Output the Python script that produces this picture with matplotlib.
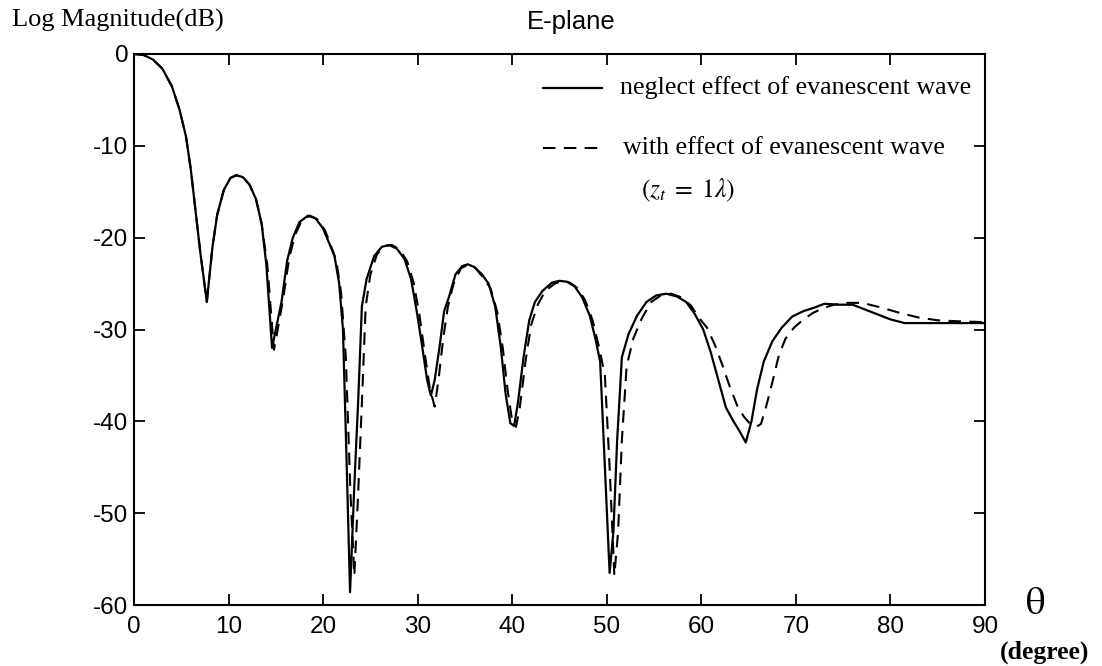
import matplotlib
matplotlib.use("Agg")
import matplotlib.pyplot as plt
from matplotlib.lines import Line2D

# ---- data ----
theta_neglect = [0, 1, 2, 3, 4, 4.8, 5.5, 6.0, 6.5, 7.0, 7.7, 8.3, 8.8, 9.5, 10.2, 10.8,
                 11.5, 12.2, 12.9, 13.5, 14.0, 14.6, 15.0, 15.6, 16.2, 16.8, 17.5, 18.4,
                 19.2, 20.0, 20.6, 21.2, 21.7, 22.1, 22.5, 22.85, 23.3, 23.7, 24.1, 24.6,
                 25.4, 26.2, 27.0, 27.8, 28.6, 29.3, 29.9, 30.5, 31.0, 31.4, 31.8, 32.3,
                 32.8, 33.3, 34.0, 34.7, 35.3, 36.0, 36.8, 37.5, 38.2, 38.8, 39.3, 39.8,
                 40.2, 40.6, 41.2, 41.8, 42.4, 43.2, 44.2, 45.0, 45.8, 46.6, 47.4, 48.2,
                 48.8, 49.3, 49.8, 50.3, 50.7, 51.1, 51.6, 52.3, 53.2, 54.2, 55.2, 56.3,
                 57.4, 58.4, 59.3, 60.2, 61.0, 61.8, 62.6, 63.4, 64.0, 64.7, 65.3, 65.9,
                 66.6, 67.5, 68.5, 69.6, 70.8, 72.0, 73.0, 74.5, 76.0, 78.0, 80.0, 81.5,
                 85.0, 90.0]
db_neglect = [0, -0.1, -0.6, -1.6, -3.5, -6, -9, -12.5, -17, -21.5, -27, -21, -17.5, -14.8,
              -13.5, -13.2, -13.4, -14.2, -15.8, -18.5, -23, -32, -30, -27, -22.5, -20,
              -18.3, -17.6, -17.9, -19, -20.5, -22, -25, -30, -45, -58.6, -47, -38, -27.5,
              -24.5, -22, -21, -20.8, -21.2, -22.3, -24.5, -28, -32, -35.5, -37.2, -35.5,
              -32, -28, -26.5, -24, -23.1, -22.9, -23.2, -24, -25, -27.5, -32, -37, -40.2,
              -40.5, -38, -33, -29, -27, -25.8, -24.9, -24.7, -24.8, -25.3, -26.5, -28.5,
              -31, -33.5, -45, -56.5, -52, -42, -33, -30.5, -28.5, -27, -26.3, -26.1, -26.4,
              -27, -28.3, -30, -32.5, -35.5, -38.5, -40, -41, -42.3, -40, -36.5, -33.5,
              -31.3, -29.8, -28.6, -28, -27.6, -27.2, -27.3, -27.3, -28.1, -28.9, -29.3,
              -29.3, -29.3]

theta_with = [0, 1, 2, 3, 4, 4.8, 5.5, 6.0, 6.5, 7.0, 7.7, 8.3, 8.8, 9.5, 10.2, 10.8, 11.5,
              12.2, 12.9, 13.5, 14.1, 14.8, 15.2, 15.8, 16.4, 17.0, 17.7, 18.6, 19.4, 20.2,
              20.8, 21.4, 21.9, 22.4, 22.9, 23.3, 23.7, 24.1, 24.5, 25.0, 25.7, 26.5, 27.3,
              28.1, 28.9, 29.6, 30.2, 30.8, 31.3, 31.8, 32.2, 32.7, 33.2, 33.8, 34.6, 35.3,
              36.1, 36.9, 37.7, 38.4, 39.0, 39.5, 40.0, 40.4, 40.8, 41.4, 42.0, 42.7, 43.5,
              44.5, 45.3, 46.1, 46.9, 47.7, 48.5, 49.2, 49.8, 50.3, 50.8, 51.2, 51.6, 52.1,
              52.8, 53.7, 54.7, 55.7, 56.8, 57.9, 58.9, 59.8, 60.6, 61.4, 62.2, 63.0, 63.8,
              64.5, 65.1, 65.8, 66.3, 66.8, 67.5, 68.2, 68.9, 69.8, 70.8, 71.8, 72.8, 74.0,
              75.5, 77.0, 79.0, 81.0, 83.0, 85.0, 87.0, 90.0]
db_with = [0, -0.1, -0.6, -1.6, -3.5, -6, -9, -12.5, -17, -21.5, -27, -21, -17.5, -14.8,
           -13.5, -13.2, -13.4, -14.2, -15.8, -18.5, -23, -32.2, -30, -26.5, -22.3, -19.8,
           -18.2, -17.6, -18, -19.2, -20.8, -22.5, -26, -33, -48, -56.8, -48, -38, -27.5,
           -24, -21.8, -20.9, -20.8, -21.3, -22.6, -25, -28.5, -33, -36.5, -38.4, -35.5,
           -31, -27.5, -25, -23.3, -23, -23.3, -24.3, -25.5, -28, -32, -36.5, -40, -40.6,
           -38.5, -33.5, -29.5, -27.3, -25.8, -25, -24.7, -24.9, -25.5, -26.8, -29, -32,
           -35, -45, -56.8, -52, -42, -34, -31, -28.8, -27, -26.3, -26.1, -26.5, -27.4,
           -28.8, -29.8, -31.6, -33.8, -36.2, -38.3, -39.5, -40.2, -40.6, -40.3, -38.6,
           -35.8, -32.8, -31.0, -29.8, -28.9, -28.2, -27.7, -27.3, -27.1, -27.1, -27.6,
           -28.2, -28.7, -29.0, -29.1, -29.2]

x_ticks = [0, 10, 20, 30, 40, 50, 60, 70, 80, 90]
y_ticks = [0, -10, -20, -30, -40, -50, -60]
label_neglect = "neglect effect of evanescent wave"
label_with = "with effect of evanescent wave"

# ---- figure ----
plt.rcParams['mathtext.fontset'] = 'stix'
plt.rcParams['axes.unicode_minus'] = False
W, H = 1102, 666
fig = plt.figure(figsize=(W / 100, H / 100), dpi=100)
ax = fig.add_axes([134 / W, 1 - 605 / H, (985 - 134) / W, (605 - 54) / H])

sans = ['Liberation Sans', 'DejaVu Sans']
serif = ['Liberation Serif', 'DejaVu Serif']

ax.plot(theta_neglect, db_neglect, color='black', lw=1.6, solid_joinstyle='round')
ax.plot(theta_with, db_with, color='black', lw=1.5, dashes=(6, 4))

ax.set_xlim(0, 90)
ax.set_ylim(-60, 0)
ax.set_xticks(x_ticks)
ax.set_yticks(y_ticks)
ax.tick_params(direction='in', length=8, width=1.3, top=True, right=True,
               labelsize=17.5)
ax.tick_params(axis='x', pad=8)
ax.tick_params(axis='y', pad=4)
for lab in ax.get_xticklabels() + ax.get_yticklabels():
    lab.set_fontfamily(sans)
for s in ax.spines.values():
    s.set_linewidth(1.5)

# legend (drawn by hand to match the reference placement)
fig.add_artist(Line2D([543 / W, 602 / W], [1 - 88 / H, 1 - 88 / H], color='black', lw=1.6))
fig.add_artist(Line2D([543 / W, 602 / W], [1 - 148 / H, 1 - 148 / H], color='black',
                      lw=1.5, dashes=(6, 4)))
fig.text(620 / W, 1 - 88 / H, label_neglect, family=serif, fontsize=18.7,
         ha='left', va='center')
fig.text(623 / W, 1 - 148 / H, label_with, family=serif, fontsize=18.7,
         ha='left', va='center')
fig.text(688 / W, 1 - 190 / H, r'$(z_t\;=\;1\lambda)$', fontsize=18.5,
         ha='center', va='center')

fig.text(12 / W, 1 - 20 / H, 'Log Magnitude(dB)', family=serif, fontsize=19,
         ha='left', va='center')
fig.text(571 / W, 1 - 22 / H, 'E-plane', family=sans, fontsize=18.5, ha='center',
         va='center')
fig.text(1035 / W, 1 - 603 / H, r'$\mathrm{\theta}$', fontsize=28, ha='center',
         va='center')
fig.text(1045 / W, 1 - 652 / H, '(degree)', family=serif, fontsize=18.5,
         fontweight='bold', ha='center', va='center')

fig.savefig('out.png', dpi=100)
